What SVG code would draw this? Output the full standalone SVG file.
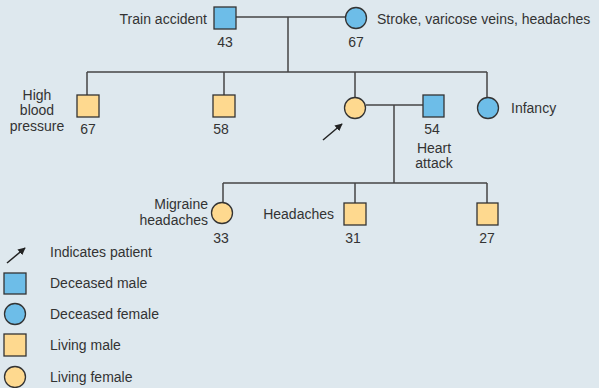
<svg xmlns="http://www.w3.org/2000/svg" width="599" height="388" viewBox="0 0 599 388">
<style>
.t{font-family:"Liberation Sans",Arial,sans-serif;font-size:14px;fill:#333}
.m{text-anchor:middle}
.e{text-anchor:end}
.dec{fill:#6dbde8;stroke:#333;stroke-width:1.3}
.liv{fill:#fed98f;stroke:#333;stroke-width:1.3}
.ln{stroke:#444;stroke-width:1.5;fill:none}
</style>
<defs>
<marker id="ah" viewBox="0 0 10 10" refX="9" refY="5" markerWidth="5" markerHeight="5" orient="auto"><path d="M0,0 L10,5 L0,10 z" fill="#222"/></marker>
</defs>
<rect width="599" height="388" fill="#dee8ee"/>
<g id="connectors">
<line class="ln" x1="236" y1="17" x2="345" y2="17"/>
<line class="ln" x1="288" y1="17" x2="288" y2="72"/>
<line class="ln" x1="87" y1="72" x2="487" y2="72"/>
<line class="ln" x1="87" y1="72" x2="87" y2="95"/>
<line class="ln" x1="224" y1="72" x2="224" y2="95"/>
<line class="ln" x1="355" y1="72" x2="355" y2="97"/>
<line class="ln" x1="487" y1="72" x2="487" y2="97"/>
<line class="ln" x1="366" y1="105" x2="423" y2="105"/>
<line class="ln" x1="394" y1="105" x2="394" y2="183"/>
<line class="ln" x1="223" y1="183" x2="487" y2="183"/>
<line class="ln" x1="223" y1="183" x2="223" y2="202"/>
<line class="ln" x1="355" y1="183" x2="355" y2="203"/>
<line class="ln" x1="487" y1="183" x2="487" y2="203"/>
<line stroke="#222" stroke-width="1.5" x1="323" y1="140" x2="342" y2="124" marker-end="url(#ah)"/>
</g>
<g id="grandfather"><rect class="dec" x="214" y="7" width="22" height="22"/><text class="t e" x="207" y="24">Train accident</text><text class="t m" x="225" y="47">43</text></g>
<g id="grandmother"><circle class="dec" cx="356" cy="18" r="10.5"/><text class="t" x="377" y="24">Stroke, varicose veins, headaches</text><text class="t m" x="356" y="47">67</text></g>
<g id="uncle1"><rect class="liv" x="77" y="95" width="22" height="22"/><text class="t m" x="37" y="100">High</text><text class="t m" x="37" y="115">blood</text><text class="t m" x="37" y="131">pressure</text><text class="t m" x="88" y="134">67</text></g>
<g id="uncle2"><rect class="liv" x="213" y="95" width="22" height="22"/><text class="t m" x="221" y="134">58</text></g>
<g id="patient"><circle class="liv" cx="355" cy="108" r="10.5"/></g>
<g id="husband"><rect class="dec" x="423" y="95" width="21" height="22"/><text class="t m" x="432" y="134">54</text><text class="t m" x="434" y="153">Heart</text><text class="t m" x="434" y="168">attack</text></g>
<g id="aunt"><circle class="dec" cx="488" cy="108" r="10.5"/><text class="t" x="511" y="113">Infancy</text></g>
<g id="daughter"><circle class="liv" cx="222" cy="213" r="10.5"/><text class="t e" x="208" y="209">Migraine</text><text class="t e" x="208" y="225">headaches</text><text class="t m" x="221" y="243">33</text></g>
<g id="son1"><rect class="liv" x="344" y="203" width="22" height="22"/><text class="t e" x="334" y="219">Headaches</text><text class="t m" x="353" y="243">31</text></g>
<g id="son2"><rect class="liv" x="477" y="203" width="21" height="22"/><text class="t m" x="487" y="243">27</text></g>
<g id="legend">
<line stroke="#222" stroke-width="1.5" x1="7" y1="263" x2="25" y2="248" marker-end="url(#ah)"/>
<text class="t" x="50" y="257">Indicates patient</text>
<rect class="dec" x="4" y="273" width="22" height="21"/><text class="t" x="50" y="288">Deceased male</text>
<circle class="dec" cx="15" cy="314" r="10.5"/><text class="t" x="50" y="319">Deceased female</text>
<rect class="liv" x="4" y="334" width="22" height="22"/><text class="t" x="50" y="350">Living male</text>
<circle class="liv" cx="15" cy="377" r="10.5"/><text class="t" x="50" y="382">Living female</text>
</g>
</svg>
